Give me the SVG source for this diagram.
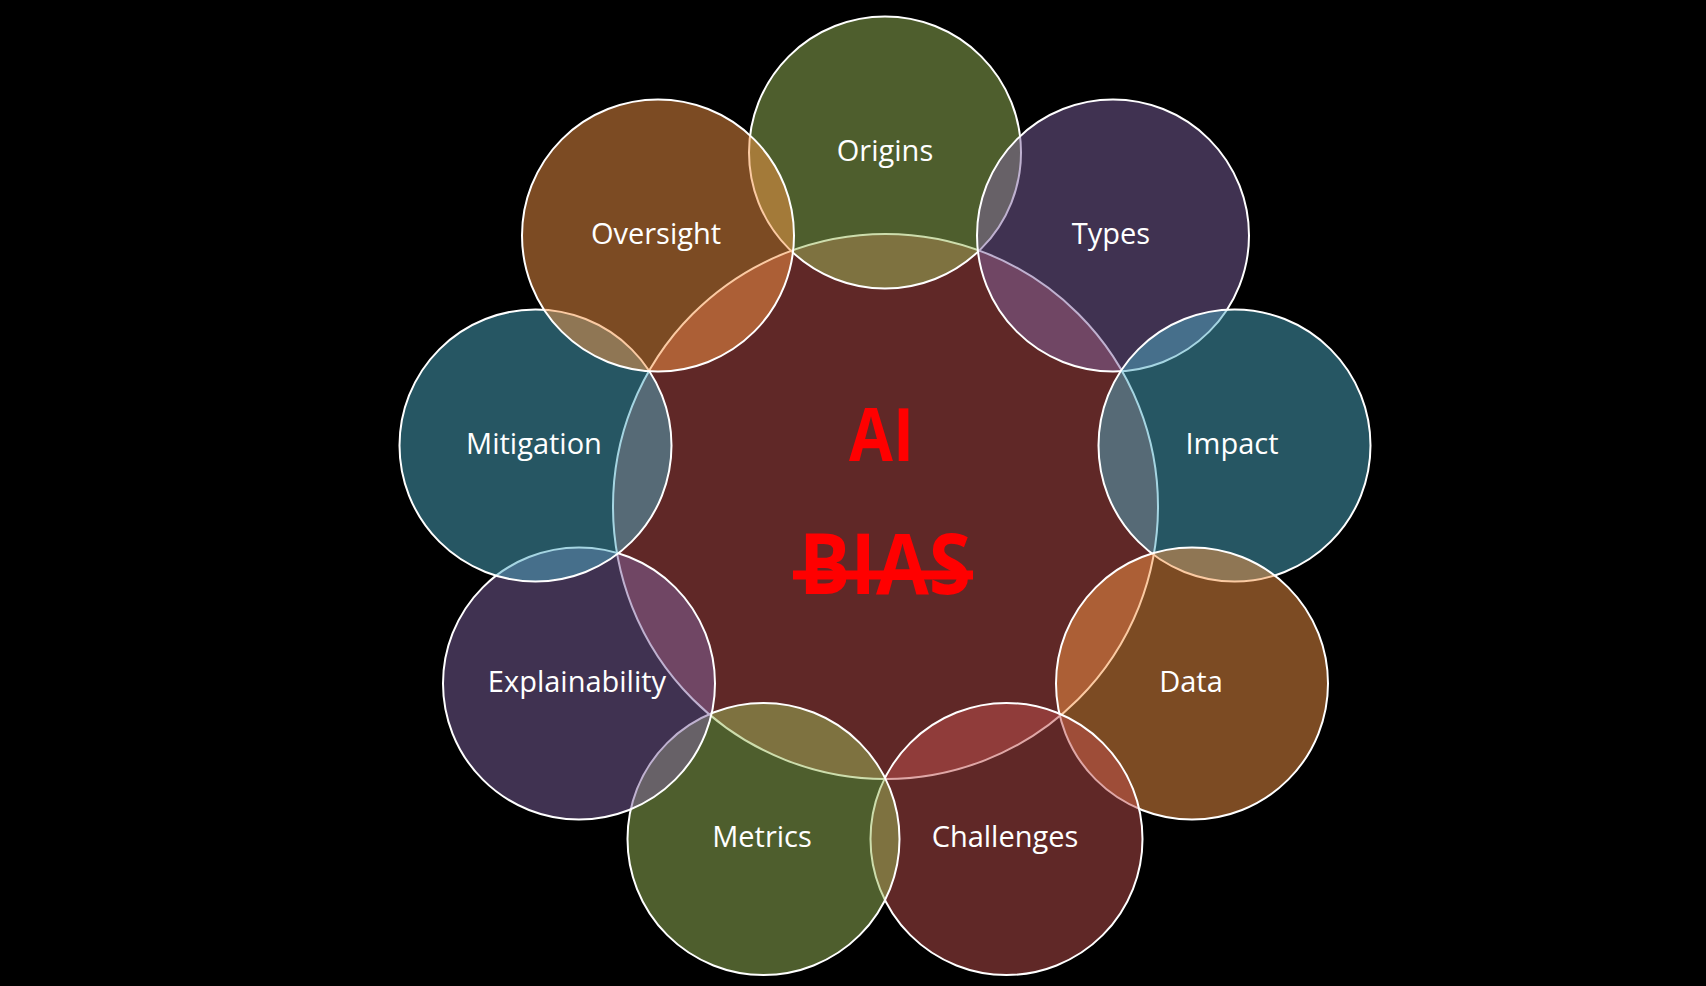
<svg xmlns="http://www.w3.org/2000/svg" width="1706" height="986" viewBox="0 0 1706 986">
  <style>
    .c { fill-opacity: 0.5; stroke: #FFFFFF; stroke-width: 2; }
    .a2 { fill: #C0504D; }
    .a3 { fill: #9BBB59; }
    .a4 { fill: #8064A2; }
    .a5 { fill: #4BACC6; }
    .a6 { fill: #F79646; }
    .lbl { font-family: "Open Sans", "Noto Sans", sans-serif; font-size: 29px; fill: #FFFFFF; text-anchor: middle; }
    .big { font-family: "Open Sans", "Liberation Sans", sans-serif; font-weight: bold; fill: #FF0000; text-anchor: middle; }
  </style>
  <rect x="0" y="0" width="1706" height="986" fill="#000000"/>
  <g id="center">
    <circle class="c a2" cx="885.5" cy="506.5" r="272.5"/>
  </g>
  <g id="origins">
    <circle class="c a3" cx="885" cy="152.5" r="136"/>
    <text class="lbl" x="885" y="160.5">Origins</text>
  </g>
  <g id="types">
    <circle class="c a4" cx="1113" cy="235.5" r="136"/>
    <text class="lbl" x="1111" y="243.5">Types</text>
  </g>
  <g id="impact">
    <circle class="c a5" cx="1234.5" cy="445.5" r="136"/>
    <text class="lbl" x="1232" y="453.5">Impact</text>
  </g>
  <g id="data">
    <circle class="c a6" cx="1192" cy="683.5" r="136"/>
    <text class="lbl" x="1191" y="691.5">Data</text>
  </g>
  <g id="challenges">
    <circle class="c a2" cx="1006.5" cy="839" r="136"/>
    <text class="lbl" x="1005" y="847">Challenges</text>
  </g>
  <g id="metrics">
    <circle class="c a3" cx="763.5" cy="839" r="136"/>
    <text class="lbl" x="762" y="847">Metrics</text>
  </g>
  <g id="explainability">
    <circle class="c a4" cx="579" cy="683.5" r="136"/>
    <text class="lbl" x="577" y="691.5">Explainability</text>
  </g>
  <g id="mitigation">
    <circle class="c a5" cx="535.5" cy="445.5" r="136"/>
    <text class="lbl" x="534" y="453.5">Mitigation</text>
  </g>
  <g id="oversight">
    <circle class="c a6" cx="658" cy="235.5" r="136"/>
    <text class="lbl" x="656" y="243.5">Oversight</text>
  </g>
  <g id="title">
    <text class="big" x="881.5" y="461" font-size="73" textLength="65" lengthAdjust="spacingAndGlyphs">AI</text>
    <text class="big" x="885" y="594" font-size="84" textLength="172" lengthAdjust="spacingAndGlyphs">BIAS</text>
    <rect x="793" y="570.5" width="180" height="9" fill="#FF0000"/>
  </g>
</svg>
